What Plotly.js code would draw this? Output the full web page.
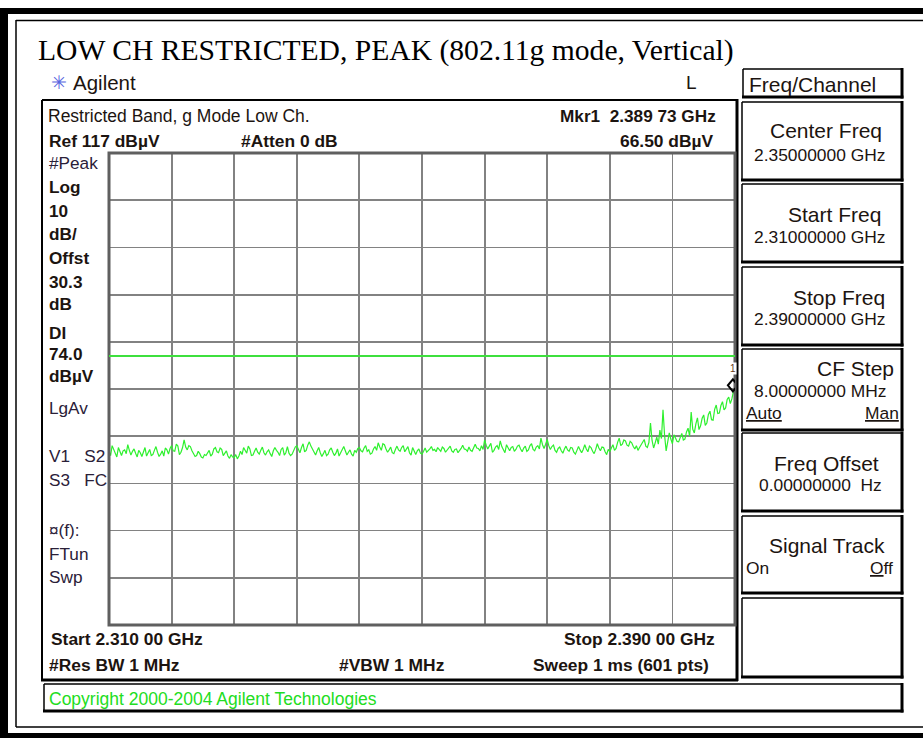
<!DOCTYPE html>
<html><head><meta charset="utf-8">
<script src="https://cdn.plot.ly/plotly-3.0.1.min.js"></script>
<style>html,body{margin:0;padding:0;background:#fff;overflow:hidden}#chart{width:923px;height:738px}</style>
</head><body><div id="chart"></div>
<script>
const startGHz = 2.310;
const stopGHz = 2.390;
const stepGHz = 0.0002;
const refLevel = 117;      // dBuV
const dbPerDiv = 10;
const divisions = 10;
const displayLine = [74.0];
const markerFreqGHz = [2.38973];
const markerLevel = [66.50];
const traceLevels = [
  53.8,52.9,55.0,54.1,53.2,52.6,54.6,53.7,52.9,53.9,54.1,53.3,55.2,54.0,53.0,53.8,54.3,53.4,52.6,54.0,
  53.5,52.7,53.9,54.6,52.8,53.5,54.2,52.9,53.1,54.0,54.8,53.6,52.7,53.2,53.9,52.8,54.5,54.1,53.2,54.4,
  55.0,53.9,53.8,55.3,54.9,53.1,53.6,54.6,56.2,54.7,54.1,55.0,54.8,53.9,53.4,52.7,52.9,53.8,53.3,52.6,
  52.4,53.1,52.9,53.4,54.0,52.8,53.2,54.3,54.6,53.7,53.5,54.5,54.2,52.9,53.4,53.9,52.8,52.3,53.1,52.6,
  52.5,53.1,52.2,52.8,53.8,53.1,54.6,53.9,53.4,54.9,54.3,52.9,53.0,53.8,54.5,53.6,53.2,54.0,54.7,53.5,
  53.0,53.7,54.1,53.3,52.7,53.9,54.6,54.0,53.6,52.9,54.2,54.6,53.0,53.5,54.8,53.4,52.9,53.2,54.0,54.7,
  55.0,54.2,53.5,54.6,55.4,53.7,54.0,55.1,55.8,54.9,54.2,53.4,53.0,53.9,54.6,53.5,52.7,53.3,54.0,52.9,
  53.2,54.1,54.5,53.6,52.9,53.4,54.3,52.8,53.5,54.2,54.8,53.9,53.0,53.6,54.1,53.2,52.8,54.0,53.6,54.4,
  54.6,53.9,53.7,54.5,55.0,53.8,54.1,53.2,53.4,54.3,54.8,54.0,55.6,54.7,54.0,55.4,55.2,54.3,53.6,54.1,
  54.7,53.5,53.3,54.2,54.9,54.1,53.8,54.6,55.0,53.7,54.2,54.8,53.5,53.0,54.6,53.8,53.1,53.9,54.3,53.4,
  53.2,53.8,54.5,53.6,53.9,54.3,54.8,54.0,54.2,53.7,54.6,54.1,53.8,54.7,54.4,53.6,54.0,54.5,54.9,53.9,
  53.6,54.2,54.3,53.5,53.9,54.4,55.1,54.3,54.2,53.8,54.7,54.0,53.8,54.6,55.3,54.5,54.4,53.9,55.0,54.2,
  56.2,55.1,54.3,54.9,55.5,53.6,54.0,54.7,55.0,54.2,56.0,54.8,54.1,53.5,55.2,54.4,53.9,54.6,54.8,53.8,
  54.2,54.9,55.1,54.3,53.7,54.5,54.9,53.8,54.1,55.0,55.4,54.2,53.9,54.7,55.0,54.3,56.6,55.2,54.4,55.3,
  56.3,55.0,54.2,54.8,55.1,54.0,53.6,54.4,54.7,53.9,53.4,54.3,54.9,54.1,53.8,54.6,54.5,53.6,53.2,54.0,
  54.8,54.1,53.5,54.2,55.2,54.3,53.7,54.9,54.6,53.8,53.3,54.2,55.4,54.5,53.9,54.7,54.6,53.7,53.1,54.2,
  53.7,54.5,55.2,54.0,54.4,55.7,56.6,55.0,55.3,56.2,56.0,55.1,54.9,55.9,55.6,54.8,54.3,55.0,54.0,54.6,
  55.1,55.8,56.3,54.9,54.6,55.7,59.8,56.1,54.5,55.6,56.8,55.3,58.3,56.5,62.6,57.2,53.9,55.8,57.7,56.4,
  55.4,57.3,56.7,55.9,55.8,56.9,57.6,56.2,56.4,57.9,58.7,57.0,62.1,58.5,57.7,59.6,60.9,58.4,59.2,60.8,
  61.5,59.3,59.8,61.6,62.3,60.5,60.4,62.7,63.6,61.8,61.9,63.5,64.3,62.6,63.0,64.8,65.3,63.9,64.9,66.5,
  65.8
];

// ---- page geometry (pixels) ----
const L = 109, R = 735, T = 153, B = 625;
const px = x => (x - L) / (R - L);
const py = y => (B - y) / (B - T);
const SANS = 'Liberation Sans, Arial, sans-serif';
const SERIF = 'Liberation Serif, Times New Roman, serif';
const INK = '#1c1410';

const shapes = [];
function line(x0, y0, x1, y1, w, c) {
  shapes.push({type:'line', xref:'paper', yref:'paper', x0:px(x0), y0:py(y0), x1:px(x1), y1:py(y1),
    line:{color:c || '#000', width:w}, layer:'above'});
}
function fillRect(x0, y0, x1, y1, c) {
  shapes.push({type:'rect', xref:'paper', yref:'paper', x0:px(x0), y0:py(y0), x1:px(x1), y1:py(y1),
    line:{width:0}, fillcolor:c, layer:'above'});
}
function box3d(x0, y0, x1, y1) {
  line(x0, y0, x1, y0, 1.5); line(x0, y0, x0, y1, 1.5);
  line(x1, y0 - 1, x1, y1 + 1.5, 3); line(x0 - 1, y1, x1 + 1.5, y1, 3);
}

// outer page frame
fillRect(0, 8, 8, 738, '#000');
fillRect(0, 8, 923, 14, '#000');
fillRect(0, 733, 923, 738, '#000');
line(16, 20, 16, 727, 1.5);
line(16, 20.5, 923, 20.5, 1.5);
line(16, 727, 923, 727, 1.5);

// instrument panel
line(42, 100, 737, 100, 2); line(42, 100, 42, 680, 2);
line(737, 99, 737, 681, 3); line(41, 680, 738, 680, 3);
// softkeys
box3d(743, 69, 902, 97);
box3d(742, 102, 902, 180);
box3d(742, 184, 902, 262);
box3d(742, 267, 902, 345);
box3d(742, 349, 902, 430);
box3d(742, 433, 902, 511);
box3d(742, 516, 902, 593);
box3d(742, 598, 902, 677);
// copyright bar
box3d(44, 684, 902, 711);

// graticule border
shapes.push({type:'rect', xref:'paper', yref:'paper', x0:0, y0:0, x1:1, y1:1,
  line:{color:'#5f5f5f', width:3}, layer:'above'});
// display line
shapes.push({type:'line', xref:'paper', yref:'y', x0:0, x1:1, y0:displayLine[0], y1:displayLine[0],
  line:{color:'#3ee03e', width:2}, layer:'above'});
// marker diamond (bottom tip on the trace point)
shapes.push({type:'path', xref:'x', yref:'y', xsizemode:'pixel', ysizemode:'pixel',
  xanchor:markerFreqGHz[0], yanchor:markerLevel[0],
  path:'M0,0 L5,6 L0,12 L-5,6 Z', line:{color:'#000', width:2}, fillcolor:'rgba(255,255,255,0)', layer:'above'});

const ann = [];
function txt(text, x, y, size, o) {
  o = o || {};
  ann.push({text:text, xref:'paper', yref:'paper', x:px(x), y:py(y), showarrow:false,
    xanchor:o.anchor || 'left', yanchor:'middle', borderpad:0,
    font:{family:o.family || SANS, size:size, color:o.color || INK}});
}
const NB = '\u00a0';
txt('LOW CH RESTRICTED, PEAK (802.11g mode, Vertical)', 37, 50, 29.6, {family:SERIF, color:'#000'});
txt('✳', 50, 82, 19, {color:'#5a66e0'});
txt('Agilent', 72, 82, 20.5);
txt('L', 685, 82, 19);
txt('Freq/Channel', 748, 84, 21);

txt('Restricted Band, g Mode Low Ch.', 47, 116, 17.5);
txt('<b>Mkr1' + NB + NB + '2.389 73 GHz</b>', 717, 116, 17.2, {anchor:'right'});
txt('<b>Ref 117 dBµV</b>', 48, 141, 17.4);
txt('<b>#Atten 0 dB</b>', 240, 141, 17.4);
txt('<b>66.50 dBµV</b>', 715, 141, 17.4, {anchor:'right'});

const side = [
  ['#Peak', 163, false], ['Log', 187, true], ['10', 211, true], ['dB/', 234, true],
  ['Offst', 258, true], ['30.3', 282, true], ['dB', 304, true], ['DI', 333, true],
  ['74.0', 354, true], ['dBµV', 376, true], ['LgAv', 408, false],
  ['V1' + NB + NB + NB + 'S2', 456, false], ['S3' + NB + NB + NB + 'FC', 480, false],
  ['¤(f):', 530, false], ['FTun', 554, false], ['Swp', 577, false]
];
side.forEach(s => txt(s[2] ? '<b>' + s[0] + '</b>' : s[0], 48, s[1], 17.2, {color: s[2] ? INK : '#2a2038'}));

txt('<b>Start 2.310 00 GHz</b>', 50, 639, 17.4);
txt('<b>Stop 2.390 00 GHz</b>', 716, 639, 17.4, {anchor:'right'});
txt('<b>#Res BW 1 MHz</b>', 48, 665, 17.4);
txt('<b>#VBW 1 MHz</b>', 338, 665, 17.4);
txt('<b>Sweep 1 ms (601 pts)</b>', 710, 665, 17.4, {anchor:'right'});

txt('Copyright 2000-2004 Agilent Technologies', 48, 699, 17.5, {color:'#22dd22'});

// softkey labels
txt('Center Freq', 883, 131, 21, {anchor:'right'});
txt('2.35000000 GHz', 753, 155, 17.4);
txt('Start Freq', 882, 214, 21, {anchor:'right'});
txt('2.31000000 GHz', 753, 237, 17.4);
txt('Stop Freq', 886, 297, 21, {anchor:'right'});
txt('2.39000000 GHz', 753, 319, 17.4);
txt('CF Step', 895, 368, 21, {anchor:'right'});
txt('8.00000000 MHz', 753, 391, 17.4);
txt('<span style="text-decoration:underline">Auto</span>', 745, 413, 17.4);
txt('<span style="text-decoration:underline">Man</span>', 900, 413, 17.4, {anchor:'right'});
txt('Freq Offset', 880, 463, 21, {anchor:'right'});
txt('0.00000000' + NB + NB + 'Hz', 758, 485, 17.4);
txt('Signal Track', 886, 545, 21, {anchor:'right'});
txt('On', 745, 568, 17.4);
txt('<span style="text-decoration:underline">O</span>ff', 894, 568, 17.4, {anchor:'right'});

// marker number
ann.push({text:'1', xref:'x', yref:'y', x:markerFreqGHz[0], y:markerLevel[0], yshift:23, showarrow:false,
  font:{family:SANS, size:10, color:'#6a3a1a'}, bgcolor:'#fff', borderpad:0});

const data = [{
  type:'scatter', mode:'lines', x0:startGHz, dx:stepGHz, y:traceLevels,
  line:{color:'#2ef02e', width:1.2}, hoverinfo:'skip', showlegend:false
}];

const layout = {
  width:923, height:738,
  margin:{l:L, r:923 - R, t:T, b:738 - B, pad:0},
  paper_bgcolor:'#fff', plot_bgcolor:'#fff', showlegend:false,
  xaxis:{range:[startGHz, stopGHz], tick0:startGHz, dtick:(stopGHz - startGHz) / divisions,
    showgrid:true, gridcolor:'#828282', gridwidth:1.8, zeroline:false, showline:false,
    showticklabels:false, ticks:'', fixedrange:true},
  yaxis:{range:[refLevel - dbPerDiv * divisions, refLevel], tick0:refLevel, dtick:dbPerDiv,
    showgrid:true, gridcolor:'#828282', gridwidth:1.8, zeroline:false, showline:false,
    showticklabels:false, ticks:'', fixedrange:true},
  shapes:shapes, annotations:ann
};
Plotly.newPlot('chart', data, layout, {displayModeBar:false, staticPlot:true});
</script></body></html>
